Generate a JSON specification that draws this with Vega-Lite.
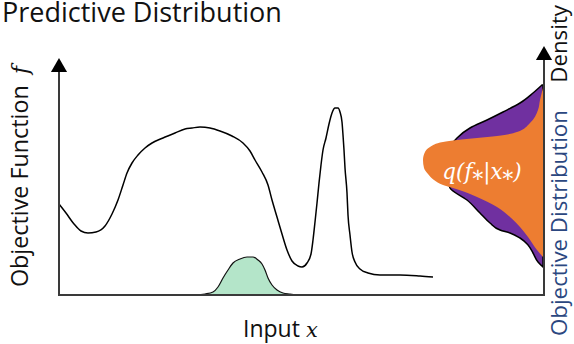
{
  "$schema": "https://vega.github.io/schema/vega-lite/v6.json",
  "width": 574,
  "height": 344,
  "padding": 0,
  "autosize": "none",
  "background": "white",
  "config": {"view": {"stroke": null}},
  "datasets": {
    "curve": [
      {"x":59,"y":204},{"x":66,"y":213},{"x":74,"y":224},{"x":81,"y":231},{"x":88,"y":233},{"x":96,"y":232},{"x":105,"y":226},{"x":112,"y":214},{"x":118,"y":200},{"x":123,"y":185},{"x":127,"y":173},{"x":132,"y":163},{"x":138,"y":155},{"x":145,"y":148},{"x":152,"y":143},{"x":163,"y":138},{"x":175,"y":133},{"x":185,"y":129},{"x":192,"y":128},{"x":200,"y":127},{"x":210,"y":128},{"x":220,"y":131},{"x":232,"y":136},{"x":243,"y":143},{"x":250,"y":151},{"x":255,"y":160},{"x":262,"y":172},{"x":268,"y":185},{"x":272,"y":200},{"x":277,"y":217},{"x":282,"y":234},{"x":287,"y":250},{"x":292,"y":261},{"x":298,"y":266},{"x":302,"y":267},{"x":307,"y":263},{"x":311,"y":254},{"x":313,"y":240},{"x":315,"y":222},{"x":317,"y":203},{"x":319,"y":183},{"x":321,"y":165},{"x":323,"y":150},{"x":326,"y":138},{"x":329,"y":124},{"x":332,"y":113},{"x":335,"y":108},{"x":338,"y":108},{"x":340,"y":112},{"x":342,"y":122},{"x":343,"y":135},{"x":344,"y":150},{"x":345,"y":168},{"x":347,"y":193},{"x":348,"y":215},{"x":350,"y":235},{"x":352,"y":252},{"x":355,"y":262},{"x":360,"y":269},{"x":368,"y":273},{"x":380,"y":275},{"x":400,"y":275},{"x":420,"y":276},{"x":433,"y":277}
    ],
    "green": [
      {"x":195,"y":295},{"x":205,"y":294},{"x":213,"y":292},{"x":218,"y":287},{"x":223,"y":278},{"x":228,"y":270},{"x":233,"y":263},{"x":240,"y":259},{"x":247,"y":257},{"x":253,"y":257},{"x":258,"y":260},{"x":262,"y":264},{"x":265,"y":270},{"x":268,"y":278},{"x":272,"y":285},{"x":277,"y":290},{"x":283,"y":293},{"x":290,"y":294},{"x":297,"y":295}
    ],
    "purple": [
      {"y":85,"x":542},{"y":93,"x":533},{"y":103,"x":520},{"y":112,"x":503},{"y":120,"x":487},{"y":128,"x":470},{"y":138,"x":457},{"y":150,"x":449},{"y":165,"x":447},{"y":180,"x":448},{"y":188,"x":450},{"y":200,"x":467},{"y":213,"x":480},{"y":223,"x":490},{"y":230,"x":500},{"y":233,"x":510},{"y":238,"x":520},{"y":245,"x":528},{"y":253,"x":533},{"y":262,"x":538},{"y":267,"x":543}
    ],
    "orange": [
      {"y":88,"x":543},{"y":100,"x":540},{"y":110,"x":538},{"y":123,"x":530},{"y":132,"x":517},{"y":136,"x":497},{"y":138,"x":477},{"y":140,"x":457},{"y":142,"x":443},{"y":147,"x":430},{"y":152,"x":425},{"y":160,"x":423},{"y":168,"x":424},{"y":174,"x":428},{"y":180,"x":434},{"y":185,"x":443},{"y":188,"x":453},{"y":192,"x":465},{"y":197,"x":477},{"y":207,"x":497},{"y":217,"x":510},{"y":227,"x":520},{"y":237,"x":528},{"y":250,"x":537},{"y":257,"x":543}
    ],
    "axes": [
      {"x":59,"y":70,"x2":59,"y2":296},
      {"x":58,"y":295,"x2":545,"y2":295},
      {"x":544,"y":58,"x2":544,"y2":296}
    ],
    "arrows": [
      {"x":59,"y":65},
      {"x":544,"y":53}
    ]
  },
  "layer": [
    {
      "data": {"name": "purple"},
      "mark": {"type": "area", "orient": "horizontal", "interpolate": "monotone", "fill": "#7030A0", "stroke": "black", "strokeWidth": 1.5},
      "encoding": {
        "y": {"field": "y", "type": "quantitative", "scale": {"domain": [0, 344], "reverse": true, "nice": false, "zero": false}, "axis": null},
        "x": {"field": "x", "type": "quantitative", "scale": {"domain": [0, 574], "nice": false, "zero": false}, "axis": null},
        "x2": {"datum": 543}
      }
    },
    {
      "data": {"name": "orange"},
      "mark": {"type": "area", "orient": "horizontal", "interpolate": "monotone", "fill": "#ED7D31"},
      "encoding": {
        "y": {"field": "y", "type": "quantitative"},
        "x": {"field": "x", "type": "quantitative"},
        "x2": {"datum": 543}
      }
    },
    {
      "data": {"name": "green"},
      "mark": {"type": "area", "interpolate": "monotone", "fill": "#B4E5C9", "stroke": "#111111", "strokeWidth": 1.2},
      "encoding": {
        "x": {"field": "x", "type": "quantitative"},
        "y": {"field": "y", "type": "quantitative"},
        "y2": {"datum": 295}
      }
    },
    {
      "data": {"name": "curve"},
      "mark": {"type": "line", "interpolate": "monotone", "color": "black", "strokeWidth": 1.5},
      "encoding": {
        "x": {"field": "x", "type": "quantitative"},
        "y": {"field": "y", "type": "quantitative"}
      }
    },
    {
      "data": {"name": "axes"},
      "mark": {"type": "rule", "color": "#3a3a3a", "strokeWidth": 2},
      "encoding": {
        "x": {"field": "x", "type": "quantitative"},
        "y": {"field": "y", "type": "quantitative"},
        "x2": {"field": "x2"},
        "y2": {"field": "y2"}
      }
    },
    {
      "data": {"name": "arrows"},
      "mark": {"type": "point", "shape": "triangle-up", "filled": true, "color": "black", "size": 260, "opacity": 1},
      "encoding": {
        "x": {"field": "x", "type": "quantitative"},
        "y": {"field": "y", "type": "quantitative"}
      }
    },
    {
      "data": {"values": [{"label": "Predictive Distribution", "x": 2, "y": 22}]},
      "mark": {"type": "text", "align": "left", "baseline": "alphabetic", "font": "Open Sans", "fontSize": 27, "color": "#111111"},
      "encoding": {
        "x": {"field": "x", "type": "quantitative"},
        "y": {"field": "y", "type": "quantitative"},
        "text": {"field": "label"}
      }
    },
    {
      "data": {"values": [{"label": "Objective Function", "x": 28, "y": 287}]},
      "mark": {"type": "text", "align": "left", "baseline": "alphabetic", "angle": 270, "font": "Open Sans", "fontSize": 23.3, "color": "#111111"},
      "encoding": {
        "x": {"field": "x", "type": "quantitative"},
        "y": {"field": "y", "type": "quantitative"},
        "text": {"field": "label"}
      }
    },
    {
      "data": {"values": [{"label": "f", "x": 28, "y": 70}]},
      "mark": {"type": "text", "align": "center", "baseline": "alphabetic", "angle": 270, "font": "DejaVu Serif", "fontStyle": "italic", "fontSize": 22, "color": "#111111"},
      "encoding": {
        "x": {"field": "x", "type": "quantitative"},
        "y": {"field": "y", "type": "quantitative"},
        "text": {"field": "label"}
      }
    },
    {
      "data": {"values": [{"label": "Input", "x": 243, "y": 337}]},
      "mark": {"type": "text", "align": "left", "baseline": "alphabetic", "font": "Open Sans", "fontSize": 23, "color": "#111111"},
      "encoding": {
        "x": {"field": "x", "type": "quantitative"},
        "y": {"field": "y", "type": "quantitative"},
        "text": {"field": "label"}
      }
    },
    {
      "data": {"values": [{"label": "x", "x": 312, "y": 337}]},
      "mark": {"type": "text", "align": "center", "baseline": "alphabetic", "font": "DejaVu Serif", "fontStyle": "italic", "fontSize": 21, "color": "#111111"},
      "encoding": {
        "x": {"field": "x", "type": "quantitative"},
        "y": {"field": "y", "type": "quantitative"},
        "text": {"field": "label"}
      }
    },
    {
      "data": {"values": [{"label": "Objective Distribution", "x": 567, "y": 336}]},
      "mark": {"type": "text", "align": "left", "baseline": "alphabetic", "angle": 270, "font": "Open Sans", "fontSize": 22.3, "color": "#2B4780"},
      "encoding": {
        "x": {"field": "x", "type": "quantitative"},
        "y": {"field": "y", "type": "quantitative"},
        "text": {"field": "label"}
      }
    },
    {
      "data": {"values": [{"label": "Density", "x": 567, "y": 5}]},
      "mark": {"type": "text", "align": "right", "baseline": "alphabetic", "angle": 270, "font": "Open Sans", "fontSize": 22.3, "color": "#111111"},
      "encoding": {
        "x": {"field": "x", "type": "quantitative"},
        "y": {"field": "y", "type": "quantitative"},
        "text": {"field": "label"}
      }
    },
    {
      "data": {"values": [{"label": "q(f⁎|x⁎)", "x": 482, "y": 179}]},
      "mark": {"type": "text", "align": "center", "baseline": "alphabetic", "font": "DejaVu Serif", "fontStyle": "italic", "fontSize": 21.5, "color": "white"},
      "encoding": {
        "x": {"field": "x", "type": "quantitative"},
        "y": {"field": "y", "type": "quantitative"},
        "text": {"field": "label"}
      }
    }
  ]
}
